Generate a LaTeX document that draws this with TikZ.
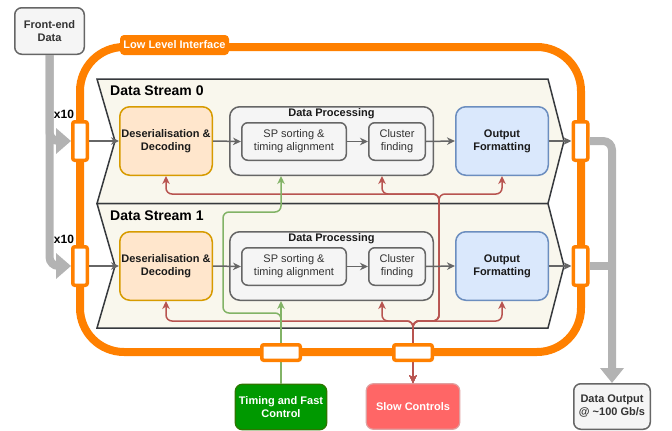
\documentclass[tikz,border=0pt]{standalone}
\usepackage{fontspec}
\setmainfont{Liberation Sans}
\usetikzlibrary{arrows.meta,calc}
\definecolor{orng}{HTML}{FF8000}
\definecolor{thickc}{HTML}{B3B3B3}
\definecolor{gline}{HTML}{666666}
\definecolor{rline}{HTML}{B85450}
\definecolor{grline}{HTML}{82B366}
\definecolor{panelfill}{HTML}{F9F7ED}
\definecolor{paneldraw}{HTML}{36393D}
\definecolor{greyfill}{HTML}{F5F5F5}
\definecolor{orfill}{HTML}{FFE6CC}
\definecolor{ordraw}{HTML}{D79B00}
\definecolor{blfill}{HTML}{DAE8FC}
\definecolor{bldraw}{HTML}{6C8EBF}
\definecolor{txt}{HTML}{1A1A1A}
\definecolor{gtxt}{HTML}{333333}
\definecolor{tfcfill}{HTML}{009900}
\definecolor{tfcdraw}{HTML}{2D7600}
\definecolor{slowfill}{HTML}{FF6666}
\definecolor{slowdraw}{HTML}{E0A0A0}
\begin{document}
\begin{tikzpicture}[x=1pt,y=-1pt,
  every node/.style={inner sep=0pt, align=center},
  bf11/.style={font=\fontsize{11}{13}\selectfont\bfseries},
  rg11/.style={font=\fontsize{11}{13}\selectfont},
  bigbox/.style={draw, line width=1.5pt, rounded corners=10pt, minimum width=92.5pt, minimum height=68.5pt, bf11, text=txt},
  desbox/.style={bigbox, fill=orfill, draw=ordraw},
  outbox/.style={bigbox, fill=blfill, draw=bldraw},
  dpbox/.style={draw=gline, fill=greyfill, line width=1.5pt, rounded corners=10pt, minimum width=203.5pt, minimum height=68.5pt},
  subbox/.style={draw=gline, fill=greyfill, line width=1.5pt, rounded corners=6pt, minimum height=37.5pt, rg11, text=gtxt},
  greybox/.style={draw=gline, fill=greyfill, line width=1.5pt, rounded corners=7pt, bf11, text=gtxt},
  extbox/.style={line width=1.2pt, rounded corners=7pt, bf11, text=white, minimum height=45.5pt},
  portv/.style={draw=orng, fill=white, line width=3.5pt, rounded corners=2pt, minimum width=14.5pt, minimum height=38.5pt},
  porth/.style={draw=orng, fill=white, line width=3.5pt, rounded corners=2pt, minimum width=38.5pt, minimum height=15.5pt},
  panel/.style={draw=paneldraw, fill=panelfill, line width=1.5pt, line join=miter},
  thickl/.style={draw=thickc, line width=8pt, rounded corners=9pt},
  garr/.style={draw=gline, line width=1.5pt, -{Stealth[length=8pt,width=7.5pt,inset=2.5pt]}},
  redl/.style={draw=rline, line width=1.5pt, rounded corners=6pt, {Stealth[length=8pt,width=7.5pt,inset=2.5pt]}-{Stealth[length=8pt,width=7.5pt,inset=2.5pt]}},
  grnl/.style={draw=grline, line width=1.5pt, rounded corners=6pt, -{Stealth[length=8pt,width=7.5pt,inset=2.5pt]}},
  title/.style={font=\fontsize{14}{16}\selectfont\bfseries, anchor=west, text=black}
]
\useasboundingbox (0,0) rectangle (672,431);

% external boxes
\node[greybox, minimum width=69.5pt, minimum height=46.5pt] (fe) at (49.5,31) {Front-end\\Data};
\node[greybox, minimum width=76.5pt, minimum height=45.5pt] (dout) at (612,406.5) {Data Output\\@ \textasciitilde100 Gb/s};
\node[extbox, fill=tfcfill, draw=tfcdraw, minimum width=91.5pt] (tfc) at (281,407) {Timing and Fast\\Control};
\node[extbox, fill=slowfill, draw=slowdraw, minimum width=93.5pt] (slow) at (413,406.5) {Slow Controls};

% coordinates for ports (drawn later)
\coordinate (lp0c) at (80,141);
\coordinate (lp1c) at (80,266);

% orange loop
\draw[orng, line width=8pt, rounded corners=44pt] (80,47) rectangle (581,352);

% stream panels
\draw[panel] (97,79) -- (548,79) -- (564,141) -- (548,203.5) -- (97,203.5) -- (115,141) -- cycle;
\draw[panel] (97,203.5) -- (548,203.5) -- (564,266) -- (548,328) -- (97,328) -- (115,266) -- cycle;
\node[title] (t0) at (110,91) {Data Stream 0};
\node[title] (t1) at (110,216) {Data Stream 1};

% stream boxes
\node[desbox] (des0) at (166,141) {Deserialisation \&\\Decoding};
\node[dpbox] (dp0) at (331.5,141) {};
\node[bf11, text=txt] (dpl0) at ($(dp0.north)+(0,8)$) {Data Processing};
\node[subbox, minimum width=104.5pt] (sp0) at (294,141.5) {SP sorting \&\\timing alignment};
\node[subbox, minimum width=56.5pt] (cl0) at (397,141.5) {Cluster\\finding};
\node[outbox] (out0) at (502,141) {Output\\Formatting};

\node[desbox] (des1) at (166,266) {Deserialisation \&\\Decoding};
\node[dpbox] (dp1) at (331.5,266) {};
\node[bf11, text=txt] (dpl1) at ($(dp1.north)+(0,8)$) {Data Processing};
\node[subbox, minimum width=104.5pt] (sp1) at (294,266.5) {SP sorting \&\\timing alignment};
\node[subbox, minimum width=56.5pt] (cl1) at (397,266.5) {Cluster\\finding};
\node[outbox] (out1) at (502,266) {Output\\Formatting};

% bus levels
\coordinate (rb1) at (0,321);
\coordinate (rb0) at (0,194);
\coordinate (rv) at (439,0);
\coordinate (gb1) at (0,313);
\coordinate (gb0) at (0,212);
\coordinate (gv) at (223,0);

% red slow-control lines
\draw[redl] (slow.north) -- (slow.north |- rb1) -| (des1.south);
\draw[redl] (slow.north) -- (slow.north |- rb1) -| ($(dp1.south)+(50.5,0)$);
\draw[redl] (slow.north) -- (slow.north |- rb1) -| (out1.south);
\draw[redl] (slow.north) -- (slow.north |- rb1) -| (rv |- rb0) -| (des0.south);
\draw[redl] (slow.north) -- (slow.north |- rb1) -| (rv |- rb0) -| ($(dp0.south)+(50.5,0)$);
\draw[redl] (slow.north) -- (slow.north |- rb1) -| (rv |- rb0) -| (out0.south);

% green timing lines
\draw[grnl] (tfc.north) -- ($(dp1.south)+(-50.5,0)$);
\draw[grnl] (tfc.north) -- (tfc.north |- gb1) -| (gv |- gb0) -| ($(dp0.south)+(-50.5,0)$);

% ports
\node[porth] (bp0) at (281,352.5) {};
\node[porth] (bp1) at (413,352.5) {};
\node[portv] (lp0) at (lp0c) {};
\node[portv] (lp1) at (lp1c) {};
\node[portv] (rp0) at (580.5,141) {};
\node[portv] (rp1) at (580.5,266) {};

% thick grey data lines
\draw[thickl, -{Triangle[length=15pt,width=25pt]}] (fe.south) |- (lp1.west);
\draw[thickl, -{Triangle[length=15pt,width=25pt]}] (fe.south) |- (lp0.west);
\draw[thickl, -{Triangle[length=15pt,width=23pt]}] (rp0.east) -| (dout.north);
\draw[thickl] (rp1.east) -- (rp1.east -| dout.north);

% label
\node[bf11, text=white, fill=orng, rounded corners=4pt, minimum width=109pt, minimum height=20pt] (lli) at (174.5,45) {Low Level Interface};

\node[font=\fontsize{12}{14}\selectfont\bfseries] (x0) at (64,114) {x10};
\node[font=\fontsize{12}{14}\selectfont\bfseries] (x1) at (64,239) {x10};

% grey data-path arrows
\foreach \s in {0,1} {
  \draw[garr] (lp\s.east) -- (des\s.west);
  \draw[garr] (des\s.east) -- (sp\s.west);
  \draw[garr] (sp\s.east) -- (cl\s.west);
  \draw[garr] (cl\s.east) -- (out\s.west);
  \draw[garr] (out\s.east) -- (rp\s.west);
}
\end{tikzpicture}
\end{document}
